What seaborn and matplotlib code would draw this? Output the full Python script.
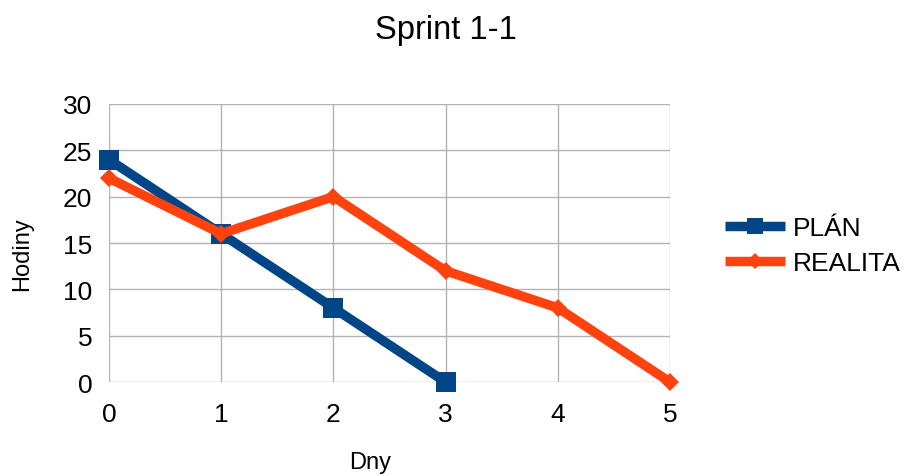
import matplotlib
matplotlib.use("Agg")
import matplotlib.pyplot as plt
import seaborn as sns
import pandas as pd

sns.set_style("white")
plt.rcParams['font.family'] = ['Liberation Sans', 'DejaVu Sans']
plt.rcParams['text.color'] = 'black'
plt.rcParams['axes.labelcolor'] = 'black'

plan_days = [0, 1, 2, 3]
plan_hours = [24, 16, 8, 0]
real_days = [0, 1, 2, 3, 4, 5]
real_hours = [22, 16, 20, 12, 8, 0]
series_names = ["PLÁN", "REALITA"]
colors = ["#004586", "#ff420e"]

df = pd.concat([
    pd.DataFrame({"Dny": plan_days, "Hodiny": plan_hours, "serie": series_names[0]}),
    pd.DataFrame({"Dny": real_days, "Hodiny": real_hours, "serie": series_names[1]}),
])

fig = plt.figure(figsize=(9.05, 4.77), dpi=100)
ax = fig.add_axes([0.1204, 0.197, 0.7403 - 0.1204, 0.7799 - 0.197])

grid_c = "#b3b3b3"
sizes = {"PLÁN": 14, "REALITA": 9.5}
for name, col, mk in zip(series_names, colors, ["s", "D"]):
    sub = df[df["serie"] == name]
    sns.lineplot(data=sub, x="Dny", y="Hodiny", ax=ax, color=col, linewidth=6.8,
                 marker=mk, markersize=sizes[name], markeredgewidth=0,
                 solid_joinstyle="miter", solid_capstyle="butt",
                 label=name, clip_on=False, zorder=3)

ax.set_xlim(0, 5)
ax.set_ylim(0, 30)
ax.set_xticks(range(0, 6))
ax.set_yticks(range(0, 31, 5))
ax.grid(True, color=grid_c, linewidth=1)
for s in ax.spines.values():
    s.set_visible(False)
ax.tick_params(axis="both", colors=grid_c, labelcolor="black", labelsize=19,
               width=1, direction="out")
ax.tick_params(axis="x", length=8.5, pad=6)
ax.tick_params(axis="y", length=8, pad=4)

ax.set_xlabel("Dny", fontsize=17)
ax.set_ylabel("Hodiny", fontsize=17)
ax.xaxis.set_label_coords(0.465, -0.288)
ax.yaxis.set_label_coords(-0.155, 0.462)
ax.xaxis.label.set_va("center")
ax.yaxis.label.set_va("center")
fig.text(0.493, 0.937, "Sprint 1-1", ha="center", va="center", fontsize=23.5)

leg = ax.legend(loc="center left", bbox_to_anchor=(0.801, 0.483),
                bbox_transform=fig.transFigure, frameon=False,
                fontsize=19, handlelength=2.27, labelspacing=0.4, handletextpad=0.3,
                borderaxespad=0, borderpad=0)
for h, name in zip(leg.legend_handles, series_names):
    h.set_markersize(11 if name == "PLÁN" else 8)
    h.set_solid_capstyle("butt")

fig.savefig("out.png", dpi=100)
